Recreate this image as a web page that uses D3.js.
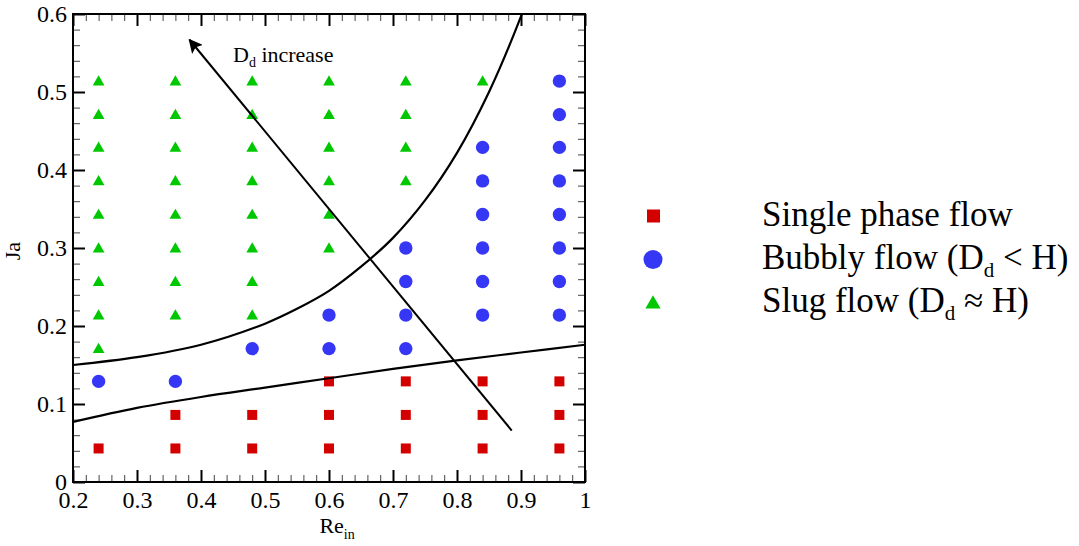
<!DOCTYPE html>
<meta charset="utf-8">
<script src="https://cdn.jsdelivr.net/npm/d3@7"></script>
<style>
body { margin: 0; background: #fff; }
text { font-family: "Liberation Serif", "Times New Roman", serif; fill: #000; }
.minor line { stroke: #444; stroke-width: 1px; }
.major line { stroke: #000; stroke-width: 2px; }
.major path, .minor path { display: none; }
.major text { font-size: 24px; font-family: "Liberation Serif", serif; }
</style>
<body>
<script>

// Re_in columns and Ja levels of each flow regime
var singlePhase = [
  [0.24, 0.043],
  [0.36, 0.043], [0.36, 0.086],
  [0.48, 0.043], [0.48, 0.086],
  [0.60, 0.043], [0.60, 0.086], [0.60, 0.129],
  [0.72, 0.043], [0.72, 0.086], [0.72, 0.129],
  [0.84, 0.043], [0.84, 0.086], [0.84, 0.129],
  [0.96, 0.043], [0.96, 0.086], [0.96, 0.129]
];
var bubbly = [
  [0.24, 0.129],
  [0.36, 0.129],
  [0.48, 0.171],
  [0.60, 0.171], [0.60, 0.214],
  [0.72, 0.171], [0.72, 0.214], [0.72, 0.257], [0.72, 0.300],
  [0.84, 0.214], [0.84, 0.257], [0.84, 0.300], [0.84, 0.343], [0.84, 0.386], [0.84, 0.429],
  [0.96, 0.214], [0.96, 0.257], [0.96, 0.300], [0.96, 0.343], [0.96, 0.386], [0.96, 0.429], [0.96, 0.471], [0.96, 0.514]
];
var slug = [
  [0.24, 0.171], [0.24, 0.214], [0.24, 0.257], [0.24, 0.300], [0.24, 0.343], [0.24, 0.386], [0.24, 0.429], [0.24, 0.471], [0.24, 0.514],
  [0.36, 0.214], [0.36, 0.257], [0.36, 0.300], [0.36, 0.343], [0.36, 0.386], [0.36, 0.429], [0.36, 0.471], [0.36, 0.514],
  [0.48, 0.214], [0.48, 0.257], [0.48, 0.300], [0.48, 0.343], [0.48, 0.386], [0.48, 0.429], [0.48, 0.471], [0.48, 0.514],
  [0.60, 0.300], [0.60, 0.343], [0.60, 0.386], [0.60, 0.429], [0.60, 0.471], [0.60, 0.514],
  [0.72, 0.386], [0.72, 0.429], [0.72, 0.471], [0.72, 0.514],
  [0.84, 0.514]
];

// regime boundaries
var lowerBoundary = [
  [0.2, 0.077], [0.3, 0.095], [0.4, 0.109], [0.5, 0.121], [0.6, 0.133],
  [0.7, 0.145], [0.8, 0.156], [0.9, 0.166], [1.0, 0.176]
];
var upperBoundary = [
  [0.2, 0.150], [0.3, 0.160], [0.4, 0.176], [0.5, 0.203], [0.55, 0.222],
  [0.6, 0.245], [0.65, 0.276], [0.7, 0.313], [0.75, 0.361], [0.8, 0.422],
  [0.85, 0.500], [0.9, 0.597], [0.92, 0.643]
];
var arrowLine = [[0.8855, 0.066], [0.382, 0.567]];

var xTicks = [0.2, 0.3, 0.4, 0.5, 0.6, 0.7, 0.8, 0.9, 1];
var yTicks = [0, 0.1, 0.2, 0.3, 0.4, 0.5, 0.6];

var width = 1079, height = 546;
var mLeft = 73, mRight = 585, mTop = 14, mBottom = 482;

var x = d3.scaleLinear().domain([0.2, 1]).range([mLeft, mRight]);
var y = d3.scaleLinear().domain([0, 0.6]).range([mBottom, mTop]);

var svg = d3.select("body").append("svg")
    .attr("width", width)
    .attr("height", height);

var defs = svg.append("defs");
defs.append("clipPath").attr("id", "plot")
  .append("rect")
    .attr("x", mLeft).attr("y", mTop)
    .attr("width", mRight - mLeft).attr("height", mBottom - mTop);

defs.append("marker")
    .attr("id", "head")
    .attr("viewBox", "0 0 10 10")
    .attr("refX", 9).attr("refY", 5)
    .attr("markerWidth", 7).attr("markerHeight", 7)
    .attr("markerUnits", "strokeWidth")
    .attr("orient", "auto")
  .append("path")
    .attr("d", "M0,0 L10,5 L0,10 L2,5 Z")
    .attr("fill", "#000");

// minor ticks on all four sides
var minorX = d3.range(0.2, 1.0001, 0.02);
var minorY = d3.range(0, 0.6001, 0.02);
function minor(axis, vals, tr) {
  svg.append("g").attr("class", "minor").attr("transform", tr)
    .call(axis.tickValues(vals).tickSize(-7).tickFormat(""));
}
minor(d3.axisBottom(x), minorX, "translate(0," + mBottom + ")");
minor(d3.axisTop(x), minorX, "translate(0," + mTop + ")");
minor(d3.axisLeft(y), minorY, "translate(" + mLeft + ",0)");
minor(d3.axisRight(y), minorY, "translate(" + mRight + ",0)");

// major ticks
var fmt = function(d) { return d === 0 || d === 1 ? String(d) : d3.format(".1f")(d); };
svg.append("g").attr("class", "major").attr("transform", "translate(0," + mBottom + ")")
  .call(d3.axisBottom(x).tickValues(xTicks).tickSize(-12).tickPadding(9).tickFormat(fmt));
svg.append("g").attr("class", "major").attr("transform", "translate(0," + mTop + ")")
  .call(d3.axisTop(x).tickValues(xTicks).tickSize(-12).tickFormat(""));
svg.append("g").attr("class", "major").attr("transform", "translate(" + mLeft + ",0)")
  .call(d3.axisLeft(y).tickValues(yTicks).tickSize(-12).tickPadding(6).tickFormat(fmt));
svg.append("g").attr("class", "major").attr("transform", "translate(" + mRight + ",0)")
  .call(d3.axisRight(y).tickValues(yTicks).tickSize(-12).tickFormat(""));

// frame
svg.append("rect")
    .attr("x", mLeft).attr("y", mTop)
    .attr("width", mRight - mLeft).attr("height", mBottom - mTop)
    .attr("fill", "none").attr("stroke", "#000").attr("stroke-width", 2);

// markers
var red = "#d40000", blue = "#3636f5", green = "#00c800";
var tri = d3.symbol().type(d3.symbolTriangle).size(60);

svg.append("g").selectAll("rect").data(singlePhase).enter().append("rect")
    .attr("x", function(d) { return x(d[0]) - 5; })
    .attr("y", function(d) { return y(d[1]) - 5; })
    .attr("width", 10).attr("height", 10)
    .attr("fill", red);

svg.append("g").selectAll("circle").data(bubbly).enter().append("circle")
    .attr("cx", function(d) { return x(d[0]); })
    .attr("cy", function(d) { return y(d[1]); })
    .attr("r", 6.7)
    .attr("fill", blue);

svg.append("g").selectAll("path").data(slug).enter().append("path")
    .attr("d", tri)
    .attr("transform", function(d) { return "translate(" + x(d[0]) + "," + (y(d[1]) + 1) + ")"; })
    .attr("fill", green);

// boundaries
var line = d3.line()
    .x(function(d) { return x(d[0]); })
    .y(function(d) { return y(d[1]); })
    .curve(d3.curveCatmullRom);

var curves = svg.append("g").attr("clip-path", "url(#plot)");
curves.append("path").datum(lowerBoundary).attr("d", line)
    .attr("fill", "none").attr("stroke", "#000").attr("stroke-width", 2.2);
curves.append("path").datum(upperBoundary).attr("d", line)
    .attr("fill", "none").attr("stroke", "#000").attr("stroke-width", 2.2);

svg.append("path").datum(arrowLine)
    .attr("d", d3.line().x(function(d) { return x(d[0]); }).y(function(d) { return y(d[1]); }))
    .attr("fill", "none").attr("stroke", "#000").attr("stroke-width", 2)
    .attr("marker-end", "url(#head)");

// annotation
var note = svg.append("text")
    .attr("x", x(0.45)).attr("y", y(0.538))
    .style("font-size", "22px");
note.append("tspan").text("D");
note.append("tspan").attr("dy", 5).style("font-size", "14px").text("d");
note.append("tspan").attr("dy", -5).text(" increase");

// axis titles
var xt = svg.append("text")
    .attr("x", x(0.585)).attr("y", 533)
    .style("font-size", "22px");
xt.append("tspan").text("Re");
xt.append("tspan").attr("dy", 6).style("font-size", "14px").text("in");

svg.append("text")
    .attr("transform", "translate(20," + y(0.296) + ") rotate(-90)")
    .attr("text-anchor", "middle")
    .style("font-size", "22px")
    .text("Ja");

// legend
var legendNames = ["Single phase flow", "Bubbly flow (D", "Slug flow (D"];
var legendTails = ["", " < H)", " \u2248 H)"];
var legendColors = [red, blue, green];
var legendShapes = ["square", "circle", "triangle"];

var lg = svg.append("g");
legendNames.forEach(function(name, i) {
  var cy = 216 + i * 43.5;
  if (legendShapes[i] === "square") {
    lg.append("rect").attr("x", 647).attr("y", cy - 6.5).attr("width", 13).attr("height", 13).attr("fill", legendColors[i]);
  } else if (legendShapes[i] === "circle") {
    lg.append("circle").attr("cx", 653).attr("cy", cy).attr("r", 9.5).attr("fill", legendColors[i]);
  } else {
    lg.append("path").attr("d", d3.symbol().type(d3.symbolTriangle).size(100))
      .attr("transform", "translate(653," + (cy + 1) + ")").attr("fill", legendColors[i]);
  }
  var t = lg.append("text").attr("x", 762).attr("y", 226 + i * 43).style("font-size", "35px");
  t.append("tspan").text(name);
  if (legendTails[i]) {
    t.append("tspan").attr("dy", 8).style("font-size", "21px").text("d");
    t.append("tspan").attr("dy", -8).text(legendTails[i]);
  }
});

</script>
</body>
